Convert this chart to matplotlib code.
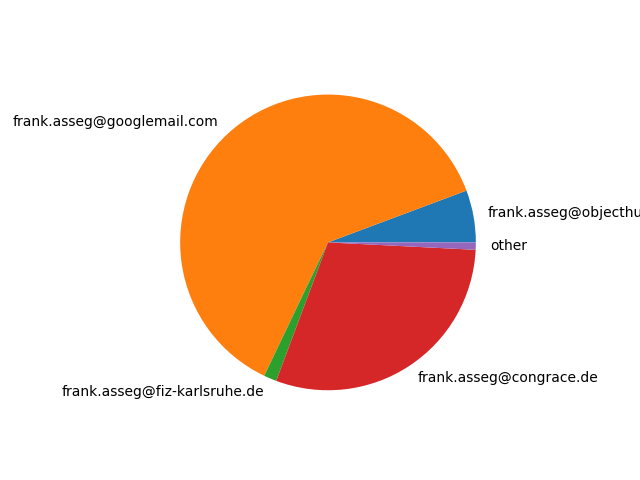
import matplotlib
matplotlib.use("Agg")
import matplotlib.pyplot as plt

labels = ["frank.asseg@objecthunter.net",
          "frank.asseg@googlemail.com",
          "frank.asseg@fiz-karlsruhe.de",
          "frank.asseg@congrace.de",
          "other"]
sizes = [5.7, 62.2, 1.4, 29.9, 0.8]

fig, ax = plt.subplots(figsize=(6.4, 4.8), dpi=100)
ax.pie(sizes, labels=labels)
fig.savefig("out.png")
